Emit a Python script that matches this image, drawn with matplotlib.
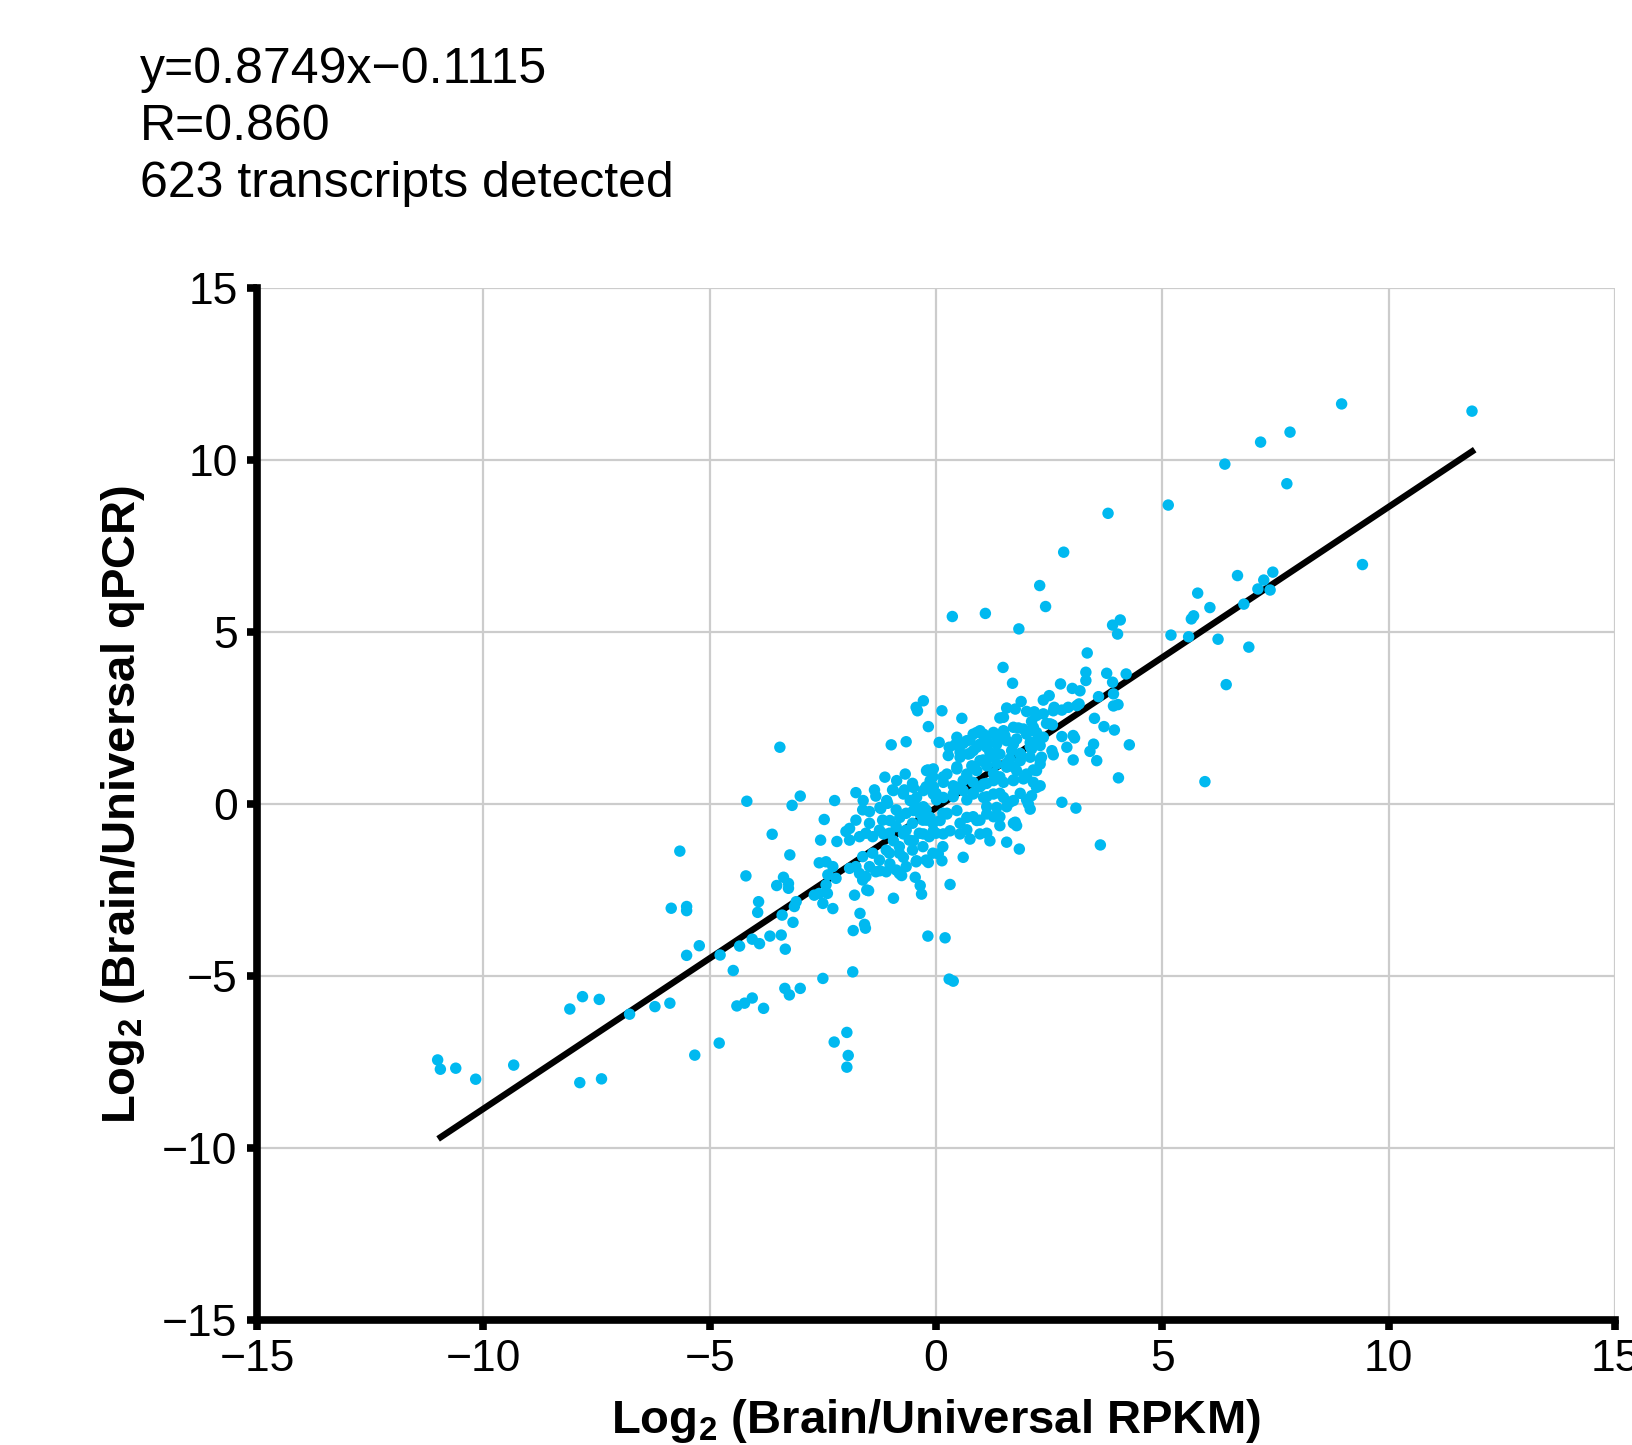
import matplotlib
matplotlib.use("Agg")
import matplotlib.pyplot as plt

# fit reported on the chart
slope = 0.8749
intercept = -0.1115
fit_x = [-11.0, 11.9]

notes = ["y=0.8749x\u22120.1115", "R=0.860", "623 transcripts detected"]
ticks = [-15, -10, -5, 0, 5, 10, 15]

# points (log2 RPKM ratio, log2 qPCR ratio)
upper_right = [
    (8.96, 11.63), (11.84, 11.42), (7.82, 10.81), (7.17, 10.52), (6.38, 9.88), (7.75, 9.31),
    (5.13, 8.69), (3.80, 8.45), (2.82, 7.32), (2.29, 6.35), (9.42, 6.96), (6.66, 6.64),
    (7.44, 6.74), (7.24, 6.51), (7.11, 6.25), (7.38, 6.22), (5.78, 6.13), (6.05, 5.71),
    (6.80, 5.81), (5.64, 5.38), (5.69, 5.47), (5.19, 4.91), (5.58, 4.86), (6.23, 4.79),
    (6.91, 4.56), (6.41, 3.47), (5.94, 0.65),
]

core = [
    (0.36, 5.45), (1.09, 5.54), (2.42, 5.74), (1.83, 5.09), (3.90, 5.20), (4.07, 5.35),
    (4.01, 4.94), (3.34, 4.39), (1.48, 3.97), (1.69, 3.51), (2.75, 3.49), (3.01, 3.36),
    (3.18, 3.29), (3.31, 3.83), (3.31, 3.59), (3.77, 3.80), (3.90, 3.54), (4.20, 3.78),
    (3.59, 3.12), (3.92, 3.20), (3.92, 2.85), (4.02, 2.89), (4.27, 1.72), (4.03, 0.76),
    (3.63, -1.19), (2.78, 0.05), (3.09, -0.12), (3.03, 1.28), (3.40, 1.53), (3.55, 1.26),
    (3.48, 1.74), (3.71, 2.25), (3.94, 2.15), (3.50, 2.49),
    (2.37, 3.02), (2.50, 3.15), (2.61, 2.81), (2.78, 2.73), (2.92, 2.81), (3.11, 2.86),
    (3.16, 2.91), (1.88, 2.98), (1.56, 2.79), (1.75, 2.76), (2.00, 2.69), (2.17, 2.68),
    (2.37, 2.62), (2.59, 2.71), (1.41, 2.50), (1.49, 2.52), (1.82, 2.21), (2.11, 2.40),
    (2.22, 2.57), (2.44, 2.34), (2.57, 2.30), (2.78, 1.96), (3.03, 1.99), (2.89, 1.65),
    (3.06, 1.92), (2.56, 1.55), (2.59, 1.43), (2.52, 2.33),
    (0.57, 2.49), (0.13, 2.71), (-0.28, 3.00), (-0.44, 2.81), (-0.41, 2.71), (-0.17, 2.25),
    (-0.99, 1.72), (-0.66, 1.81), (0.07, 1.79), (0.90, 2.08), (0.97, 2.13), (1.05, 1.99),
    (1.45, 2.03), (1.52, 1.99), (1.34, 1.74), (1.71, 1.74), (1.86, 1.45), (2.08, 1.79),
    (2.30, 1.70), (2.22, 1.84), (0.29, 1.65), (0.42, 1.72), (0.60, 1.76), (0.75, 1.86),
    (0.97, 1.74), (1.12, 1.65), (0.82, 1.55), (0.53, 1.50),
    (0.27, 1.41), (0.53, 1.36), (0.79, 1.11), (0.97, 1.26), (1.19, 1.36), (1.41, 1.45),
    (1.63, 1.31), (1.86, 1.26), (2.08, 1.36), (2.30, 1.16), (2.22, 0.97), (2.00, 0.87),
    (1.78, 0.97), (1.56, 1.07), (1.34, 1.16), (1.12, 1.11), (0.90, 0.97), (0.68, 0.87),
    (0.46, 1.02), (0.24, 0.87), (-0.06, 1.02), (-0.21, 0.97), (-0.50, 0.48), (-0.68, 0.87),
    (-0.87, 0.68), (-1.13, 0.78),
    (-0.13, 0.68), (0.16, 0.63), (0.38, 0.53), (0.60, 0.68), (0.82, 0.63), (1.05, 0.58),
    (1.27, 0.68), (1.49, 0.63), (1.71, 0.68), (1.93, 0.73), (2.15, 0.63), (2.22, 0.48),
    (2.30, 0.53), (2.11, 0.24), (2.04, 0.00), (2.08, -0.15), (1.71, 0.10), (1.63, 0.05),
    (1.49, 0.19), (1.27, 0.29), (1.05, 0.19), (0.82, 0.29), (0.60, 0.39), (0.38, 0.29),
    (0.16, 0.19), (-0.06, 0.29), (-0.28, 0.39), (-0.43, 0.19), (-0.57, 0.10), (-0.72, 0.29),
    (-0.94, 0.39), (-1.09, 0.10), (-1.24, -0.10),
    (1.34, -0.10), (1.12, -0.29), (0.90, -0.48), (0.68, -0.39), (0.46, -0.19), (0.24, -0.29),
    (0.09, -0.48), (-0.13, -0.39), (-0.35, -0.29), (-0.50, -0.19), (-0.80, -0.39), (-1.02, -0.48),
    (-1.16, -0.87), (-0.94, -1.07), (-0.72, -0.87), (-0.50, -1.07), (-0.28, -0.87), (-0.06, -0.78),
    (0.16, -0.87), (0.31, -0.78), (0.53, -0.87), (0.75, -1.02), (0.97, -0.87), (1.19, -1.07),
    (1.41, -0.63), (1.56, -1.11), (1.75, -0.53), (1.78, -0.63), (1.84, -1.31), (0.60, -1.55),
    (0.31, -2.34), (-0.32, -2.62), (-0.35, -2.37), (-0.46, -2.13), (-0.94, -2.74), (-0.76, -2.08),
    (-1.02, -1.74), (-1.24, -1.94), (-0.17, -1.70), (0.13, -1.65), (0.05, -1.45), (-0.43, -1.65),
    (-0.72, -1.55),
    (0.46, 1.94), (0.68, 1.84), (0.90, 1.65), (1.12, 1.84), (1.34, 1.94), (1.56, 1.84),
    (1.78, 1.89), (2.00, 2.03), (2.22, 2.08), (2.37, 1.94), (2.15, 2.23), (1.93, 2.18),
    (1.71, 2.23), (1.49, 2.13), (1.27, 2.08), (1.05, 2.03), (0.82, 2.03), (0.71, 1.45),
    (1.19, 1.50), (1.67, 1.55), (2.11, 1.60), (2.33, 1.36),
]

# densest part of the cloud
dense = [
    (0.68, 0.79), (0.97, 0.50), (1.27, 0.89), (1.56, 1.18), (1.86, 1.47), (2.08, 1.67),
    (1.71, 0.70), (1.41, 0.31), (1.12, -0.08), (0.82, -0.37), (0.53, -0.56), (0.24, -0.27),
    (0.38, 0.21), (0.68, 0.12), (0.97, -0.47), (1.27, -0.37), (1.56, -0.08), (1.86, 0.31),
    (2.15, 0.99), (2.30, 1.28), (2.00, 0.79), (1.34, 1.47), (1.04, 1.28), (0.75, 1.47),
    (0.46, 1.08), (0.16, 0.79), (-0.06, 0.50), (0.01, 0.12), (-0.28, -0.08), (-0.21, -0.47),
    (1.12, -0.85), (1.71, -0.56), (2.00, 0.12), (0.82, 0.31), (1.12, 0.60), (1.41, 0.79),
    (0.53, 0.50), (1.71, 1.08), (1.12, 0.21), (1.41, -0.37), (0.68, -0.75),
]

left_mid = [
    (-3.45, 1.65), (-1.77, 0.33), (-1.61, 0.10), (-1.36, 0.41), (-1.33, 0.23), (-2.24, 0.10),
    (-3.00, 0.23), (-3.18, -0.04), (-4.18, 0.08), (-2.47, -0.45), (-3.62, -0.88), (-3.23, -1.48),
    (-2.55, -1.05), (-2.19, -1.09), (-5.66, -1.37), (-4.20, -2.09), (-3.52, -2.37), (-3.37, -2.13),
    (-3.26, -2.31), (-3.26, -2.45), (-2.58, -1.71), (-2.43, -1.68), (-2.28, -1.82), (-2.39, -2.06),
    (-2.21, -2.16), (-2.43, -2.35), (-2.58, -2.60), (-2.50, -2.89), (-2.28, -3.04), (-2.69, -2.65),
    (-2.40, -2.60), (-3.09, -2.84), (-3.13, -2.98), (-3.92, -2.84), (-3.94, -3.15), (-3.40, -3.23),
    (-3.16, -3.44), (-3.67, -3.84), (-3.42, -3.81), (-4.06, -3.93), (-3.90, -4.06), (-4.34, -4.13),
    (-3.33, -4.22), (-4.77, -4.39), (-5.23, -4.12), (-5.51, -4.40), (-4.48, -4.84), (-5.85, -3.03),
    (-5.51, -2.98), (-5.51, -3.10), (-3.34, -5.36), (-3.24, -5.55), (-3.00, -5.36), (-2.50, -5.07),
    (-1.84, -4.88), (-0.18, -3.84), (0.20, -3.89), (0.29, -5.09), (0.38, -5.15), (-7.81, -5.60),
    (-7.44, -5.68), (-1.80, -2.65), (-1.68, -3.18), (-1.58, -3.50), (-1.56, -3.61), (-1.83, -3.68),
    (-1.49, -2.52), (-1.53, -2.50),
    (-1.99, -0.80), (-1.91, -1.05), (-1.69, -0.95), (-1.55, -0.85), (-1.40, -0.95), (-1.25, -0.76),
    (-1.25, -1.63), (-1.47, -1.82), (-1.69, -2.02), (-1.91, -1.87), (-1.77, -1.82), (-1.62, -1.53),
    (-1.40, -1.43), (-1.33, -1.97), (-1.55, -2.11), (-1.62, -2.21), (-1.47, -0.56), (-1.77, -0.47),
    (-1.91, -0.71), (-1.62, -0.17), (-1.47, -0.22),
    (-1.22, -0.13), (-1.07, 0.02), (-0.88, -0.17), (-0.66, -0.27), (-0.44, -0.08), (-0.22, -0.17),
    (-0.96, 0.41), (-0.70, 0.41), (-0.52, 0.60), (-0.22, 0.50), (-0.18, 0.99), (-0.07, 0.79),
    (0.00, 0.31), (0.15, -0.27), (0.00, -0.85), (0.15, -1.24), (-1.18, -0.47), (-1.03, -0.85),
    (-0.88, -0.66), (-0.66, -0.76), (-0.52, -0.56), (-0.29, -0.47), (-0.07, -0.56), (-0.15, -0.95),
    (-0.37, -0.85), (-0.59, -1.05), (-0.81, -1.24), (-1.03, -1.43), (-1.10, -1.34), (-0.81, -1.43),
    (-0.52, -1.34), (-0.29, -1.24), (-0.07, -1.43), (-0.22, -1.63), (-0.44, -1.68), (-0.66, -1.82),
    (-0.88, -1.92), (-1.10, -1.97), (-0.81, -2.02),
]

lower_left = [
    (-11.01, -7.44), (-10.95, -7.71), (-10.61, -7.68), (-10.17, -8.00), (-9.33, -7.59),
    (-8.09, -5.96), (-7.87, -8.10), (-7.39, -7.99), (-6.77, -6.11), (-6.21, -5.89),
    (-5.88, -5.79), (-5.33, -7.30), (-4.79, -6.95), (-4.40, -5.87), (-4.23, -5.79),
    (-4.06, -5.64), (-3.81, -5.94), (-2.25, -6.92), (-1.97, -6.64), (-1.94, -7.31),
    (-1.97, -7.65),
]

plt.rcParams['font.family'] = ['Liberation Sans', 'DejaVu Sans']
plt.rcParams['mathtext.fontset'] = 'custom'
plt.rcParams['mathtext.rm'] = 'Liberation Sans'
plt.rcParams['mathtext.bf'] = 'Liberation Sans:bold'

fig = plt.figure(figsize=(16.33, 14.45), dpi=100)
ax = fig.add_axes([0.1574, 0.0865, 0.8316, 0.7142])

pts = upper_right + core + dense + left_mid + lower_left
xs = [p[0] for p in pts]
ys = [p[1] for p in pts]

fit_y = [slope * x + intercept for x in fit_x]
ax.plot(fit_x, fit_y, color='black', lw=4.6, solid_capstyle='butt', zorder=2)
ax.scatter(xs, ys, s=68, color='#00b9f0', edgecolors='none', zorder=3)

ax.set_xlim(-15, 15)
ax.set_ylim(-15, 15)
ax.set_xticks(ticks)
ax.set_yticks(ticks)
ax.grid(True, color='#cccccc', lw=1.6, zorder=0)
ax.set_axisbelow(True)

for s in ['top', 'right']:
    ax.spines[s].set_visible(False)
for s in ['left', 'bottom']:
    ax.spines[s].set_linewidth(5.5)
    ax.spines[s].set_zorder(4)
ax.tick_params(direction='out', length=7, width=5.5, labelsize=32, pad=7)

ax.set_xlabel(r'Log$_\mathbf{2}$ (Brain/Universal RPKM)', fontsize=34, fontweight='bold', va='baseline')
ax.xaxis.set_label_coords(0.5, -0.1095)
ax.set_ylabel(r'Log$_\mathbf{2}$ (Brain/Universal qPCR)', fontsize=34, fontweight='bold', va='center')
ax.yaxis.set_label_coords(-0.0987, 0.5)

for i, t in enumerate(notes):
    fig.text(140 / 1633, 1 - (83 + 57 * i) / 1445, t, fontsize=36, va='baseline', ha='left')

fig.savefig('out.png', dpi=100)
